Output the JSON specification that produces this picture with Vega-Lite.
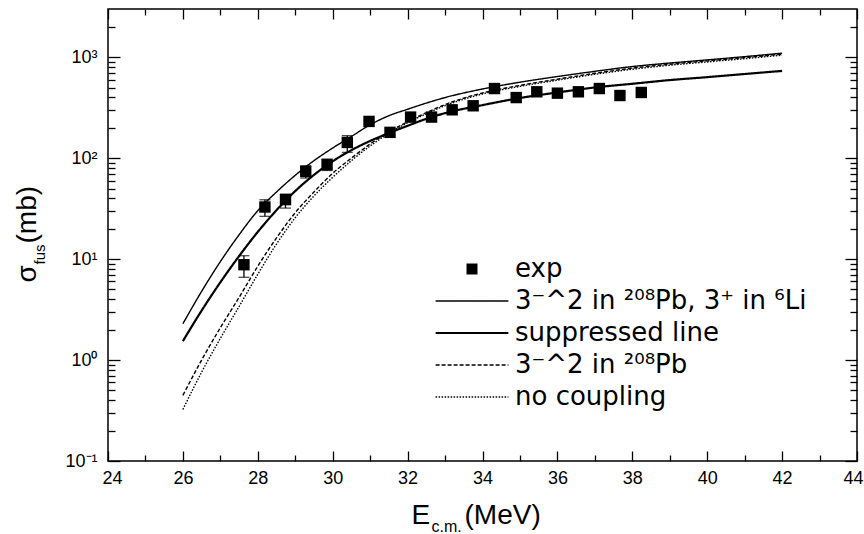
{
  "$schema": "https://vega.github.io/schema/vega-lite/v6.json",
  "width": 749,
  "height": 452,
  "autosize": {"type": "none"},
  "padding": {"left": 108, "top": 9, "right": 7, "bottom": 73},
  "background": "white",
  "config": {
    "view": {"stroke": "black", "strokeWidth": 1.5},
    "font": "Liberation Sans",
    "axis": {"domain": false, "grid": false, "tickColor": "black", "tickWidth": 1.3, "labelColor": "black", "titleColor": "black", "labelFont": "Liberation Sans", "titleFont": "Liberation Sans", "titleFontWeight": "normal", "labelFlush": false, "labelOverlap": false}
  },
  "datasets": {
    "curves": [
      {"E": 26, "sigma": 2.29, "model": "3⁻^2 in ²⁰⁸Pb, 3⁺ in ⁶Li"},
      {"E": 26.5, "sigma": 4.79, "model": "3⁻^2 in ²⁰⁸Pb, 3⁺ in ⁶Li"},
      {"E": 27, "sigma": 9.44, "model": "3⁻^2 in ²⁰⁸Pb, 3⁺ in ⁶Li"},
      {"E": 27.5, "sigma": 17.4, "model": "3⁻^2 in ²⁰⁸Pb, 3⁺ in ⁶Li"},
      {"E": 28, "sigma": 30.2, "model": "3⁻^2 in ²⁰⁸Pb, 3⁺ in ⁶Li"},
      {"E": 28.5, "sigma": 46.2, "model": "3⁻^2 in ²⁰⁸Pb, 3⁺ in ⁶Li"},
      {"E": 29, "sigma": 67.6, "model": "3⁻^2 in ²⁰⁸Pb, 3⁺ in ⁶Li"},
      {"E": 29.5, "sigma": 94.4, "model": "3⁻^2 in ²⁰⁸Pb, 3⁺ in ⁶Li"},
      {"E": 30, "sigma": 126, "model": "3⁻^2 in ²⁰⁸Pb, 3⁺ in ⁶Li"},
      {"E": 30.5, "sigma": 164, "model": "3⁻^2 in ²⁰⁸Pb, 3⁺ in ⁶Li"},
      {"E": 31, "sigma": 214, "model": "3⁻^2 in ²⁰⁸Pb, 3⁺ in ⁶Li"},
      {"E": 31.5, "sigma": 263, "model": "3⁻^2 in ²⁰⁸Pb, 3⁺ in ⁶Li"},
      {"E": 32, "sigma": 305, "model": "3⁻^2 in ²⁰⁸Pb, 3⁺ in ⁶Li"},
      {"E": 32.5, "sigma": 351, "model": "3⁻^2 in ²⁰⁸Pb, 3⁺ in ⁶Li"},
      {"E": 33, "sigma": 398, "model": "3⁻^2 in ²⁰⁸Pb, 3⁺ in ⁶Li"},
      {"E": 34, "sigma": 484, "model": "3⁻^2 in ²⁰⁸Pb, 3⁺ in ⁶Li"},
      {"E": 35, "sigma": 565, "model": "3⁻^2 in ²⁰⁸Pb, 3⁺ in ⁶Li"},
      {"E": 36, "sigma": 643, "model": "3⁻^2 in ²⁰⁸Pb, 3⁺ in ⁶Li"},
      {"E": 37, "sigma": 724, "model": "3⁻^2 in ²⁰⁸Pb, 3⁺ in ⁶Li"},
      {"E": 38, "sigma": 807, "model": "3⁻^2 in ²⁰⁸Pb, 3⁺ in ⁶Li"},
      {"E": 39, "sigma": 875, "model": "3⁻^2 in ²⁰⁸Pb, 3⁺ in ⁶Li"},
      {"E": 40, "sigma": 940, "model": "3⁻^2 in ²⁰⁸Pb, 3⁺ in ⁶Li"},
      {"E": 41, "sigma": 1012, "model": "3⁻^2 in ²⁰⁸Pb, 3⁺ in ⁶Li"},
      {"E": 42, "sigma": 1096, "model": "3⁻^2 in ²⁰⁸Pb, 3⁺ in ⁶Li"},
      {"E": 26, "sigma": 1.54, "model": "suppressed line"},
      {"E": 26.5, "sigma": 3.09, "model": "suppressed line"},
      {"E": 27, "sigma": 5.89, "model": "suppressed line"},
      {"E": 27.5, "sigma": 10.7, "model": "suppressed line"},
      {"E": 28, "sigma": 18.6, "model": "suppressed line"},
      {"E": 28.5, "sigma": 30.5, "model": "suppressed line"},
      {"E": 29, "sigma": 47.2, "model": "suppressed line"},
      {"E": 29.5, "sigma": 68.2, "model": "suppressed line"},
      {"E": 30, "sigma": 93.1, "model": "suppressed line"},
      {"E": 30.5, "sigma": 120, "model": "suppressed line"},
      {"E": 31, "sigma": 148, "model": "suppressed line"},
      {"E": 31.5, "sigma": 177, "model": "suppressed line"},
      {"E": 32, "sigma": 209, "model": "suppressed line"},
      {"E": 32.5, "sigma": 245, "model": "suppressed line"},
      {"E": 33, "sigma": 279, "model": "suppressed line"},
      {"E": 34, "sigma": 335, "model": "suppressed line"},
      {"E": 35, "sigma": 394, "model": "suppressed line"},
      {"E": 36, "sigma": 447, "model": "suppressed line"},
      {"E": 37, "sigma": 501, "model": "suppressed line"},
      {"E": 38, "sigma": 545, "model": "suppressed line"},
      {"E": 39, "sigma": 593, "model": "suppressed line"},
      {"E": 40, "sigma": 634, "model": "suppressed line"},
      {"E": 41, "sigma": 681, "model": "suppressed line"},
      {"E": 42, "sigma": 731, "model": "suppressed line"},
      {"E": 26, "sigma": 0.447, "model": "3⁻^2 in ²⁰⁸Pb"},
      {"E": 26.5, "sigma": 1.0, "model": "3⁻^2 in ²⁰⁸Pb"},
      {"E": 27, "sigma": 2.09, "model": "3⁻^2 in ²⁰⁸Pb"},
      {"E": 27.5, "sigma": 4.17, "model": "3⁻^2 in ²⁰⁸Pb"},
      {"E": 28, "sigma": 8.51, "model": "3⁻^2 in ²⁰⁸Pb"},
      {"E": 28.5, "sigma": 16.2, "model": "3⁻^2 in ²⁰⁸Pb"},
      {"E": 29, "sigma": 28.8, "model": "3⁻^2 in ²⁰⁸Pb"},
      {"E": 29.5, "sigma": 46.2, "model": "3⁻^2 in ²⁰⁸Pb"},
      {"E": 30, "sigma": 70.8, "model": "3⁻^2 in ²⁰⁸Pb"},
      {"E": 30.5, "sigma": 100, "model": "3⁻^2 in ²⁰⁸Pb"},
      {"E": 31, "sigma": 138, "model": "3⁻^2 in ²⁰⁸Pb"},
      {"E": 31.5, "sigma": 182, "model": "3⁻^2 in ²⁰⁸Pb"},
      {"E": 32, "sigma": 229, "model": "3⁻^2 in ²⁰⁸Pb"},
      {"E": 32.5, "sigma": 282, "model": "3⁻^2 in ²⁰⁸Pb"},
      {"E": 33, "sigma": 339, "model": "3⁻^2 in ²⁰⁸Pb"},
      {"E": 34, "sigma": 442, "model": "3⁻^2 in ²⁰⁸Pb"},
      {"E": 35, "sigma": 525, "model": "3⁻^2 in ²⁰⁸Pb"},
      {"E": 36, "sigma": 605, "model": "3⁻^2 in ²⁰⁸Pb"},
      {"E": 37, "sigma": 692, "model": "3⁻^2 in ²⁰⁸Pb"},
      {"E": 38, "sigma": 778, "model": "3⁻^2 in ²⁰⁸Pb"},
      {"E": 39, "sigma": 851, "model": "3⁻^2 in ²⁰⁸Pb"},
      {"E": 40, "sigma": 918, "model": "3⁻^2 in ²⁰⁸Pb"},
      {"E": 41, "sigma": 989, "model": "3⁻^2 in ²⁰⁸Pb"},
      {"E": 42, "sigma": 1072, "model": "3⁻^2 in ²⁰⁸Pb"},
      {"E": 26, "sigma": 0.324, "model": "no coupling"},
      {"E": 26.5, "sigma": 0.759, "model": "no coupling"},
      {"E": 27, "sigma": 1.64, "model": "no coupling"},
      {"E": 27.5, "sigma": 3.39, "model": "no coupling"},
      {"E": 28, "sigma": 7.08, "model": "no coupling"},
      {"E": 28.5, "sigma": 14.1, "model": "no coupling"},
      {"E": 29, "sigma": 25.7, "model": "no coupling"},
      {"E": 29.5, "sigma": 42.2, "model": "no coupling"},
      {"E": 30, "sigma": 64.6, "model": "no coupling"},
      {"E": 30.5, "sigma": 94.4, "model": "no coupling"},
      {"E": 31, "sigma": 132, "model": "no coupling"},
      {"E": 31.5, "sigma": 176, "model": "no coupling"},
      {"E": 32, "sigma": 224, "model": "no coupling"},
      {"E": 32.5, "sigma": 275, "model": "no coupling"},
      {"E": 33, "sigma": 331, "model": "no coupling"},
      {"E": 34, "sigma": 432, "model": "no coupling"},
      {"E": 35, "sigma": 513, "model": "no coupling"},
      {"E": 36, "sigma": 592, "model": "no coupling"},
      {"E": 37, "sigma": 676, "model": "no coupling"},
      {"E": 38, "sigma": 759, "model": "no coupling"},
      {"E": 39, "sigma": 832, "model": "no coupling"},
      {"E": 40, "sigma": 897, "model": "no coupling"},
      {"E": 41, "sigma": 966, "model": "no coupling"},
      {"E": 42, "sigma": 1047, "model": "no coupling"}
    ],
    "exp": [
      {"E": 27.63, "sigma": 8.8},
      {"E": 28.19, "sigma": 32.8},
      {"E": 28.74, "sigma": 38.8},
      {"E": 29.28, "sigma": 73.8},
      {"E": 29.85, "sigma": 86},
      {"E": 30.39, "sigma": 143},
      {"E": 30.97, "sigma": 231},
      {"E": 31.53, "sigma": 180},
      {"E": 32.08, "sigma": 255},
      {"E": 32.64, "sigma": 255},
      {"E": 33.19, "sigma": 301},
      {"E": 33.75, "sigma": 330},
      {"E": 34.32, "sigma": 489},
      {"E": 34.9, "sigma": 398},
      {"E": 35.45, "sigma": 454},
      {"E": 36.0, "sigma": 440},
      {"E": 36.56, "sigma": 454},
      {"E": 37.12, "sigma": 489},
      {"E": 37.67, "sigma": 417},
      {"E": 38.24, "sigma": 447}
    ],
    "err": [
      {"E": 27.63, "lo": 6.6, "hi": 10.8},
      {"E": 28.19, "lo": 26.5, "hi": 38.7},
      {"E": 28.74, "lo": 32, "hi": 44},
      {"E": 29.28, "lo": 63.5, "hi": 84},
      {"E": 29.85, "lo": 75.5, "hi": 98},
      {"E": 30.39, "lo": 114, "hi": 167}
    ]
  },
  "resolve": {"scale": {"x": "shared", "y": "shared"}, "axis": {"x": "independent", "y": "independent"}},
  "layer": [
    {
      "data": {"name": "curves"},
      "mark": {"type": "line", "interpolate": "monotone", "color": "black"},
      "encoding": {
        "x": {"field": "E", "type": "quantitative", "scale": {"domain": [24, 44], "nice": false, "zero": false},
          "axis": {"orient": "bottom", "values": [24, 26, 28, 30, 32, 34, 36, 38, 40, 42, 44], "tickSize": -10, "labelPadding": 18, "labelFontSize": 18, "labelFlush": true, "labelFlushOffset": 6,
            "title": "E", "titleFontSize": 28, "titleX": 303, "titleY": 62, "titleAlign": "left", "titleBaseline": "alphabetic", "titleAngle": 0}},
        "y": {"field": "sigma", "type": "quantitative", "scale": {"type": "log", "domain": [0.1, 3000], "nice": false},
          "axis": {"orient": "left", "values": [0.1, 1, 10, 100, 1000], "tickSize": -12, "labelPadding": 23, "labelFontSize": 18,
            "labelExpr": "datum.value >= 999 ? '10³' : datum.value >= 99 ? '10²' : datum.value >= 9 ? '10¹' : datum.value >= 0.9 ? '10⁰' : '10⁻¹'",
            "title": "σ", "titleFontSize": 28, "titleAngle": 270, "titleX": -73, "titleY": 273, "titleAlign": "left", "titleBaseline": "alphabetic"}},
        "strokeDash": {"field": "model", "type": "nominal",
          "scale": {"domain": ["exp", "3⁻^2 in ²⁰⁸Pb, 3⁺ in ⁶Li", "suppressed line", "3⁻^2 in ²⁰⁸Pb", "no coupling"], "range": [[1, 0], [1, 0], [1, 0], [4, 2], [1.5, 1.5]]},
          "legend": {"title": null, "orient": "none", "legendX": 351, "legendY": 247, "symbolSize": 784, "symbolType": "stroke", "symbolStrokeColor": "black", "symbolStrokeWidth": 1.4,
            "labelFontSize": 26, "labelFont": "DejaVu Sans", "labelColor": "black", "labelOffset": 30, "rowPadding": 6, "labelLimit": 500,
            "encode": {"symbols": {"update": {
              "shape": {"signal": "datum.value === 'exp' ? 'square' : 'M-2.6,0H2.6'"},
              "size": {"signal": "datum.value === 'exp' ? 121 : 784"},
              "fill": {"signal": "datum.value === 'exp' ? 'black' : 'transparent'"},
              "stroke": {"value": "black"},
              "strokeWidth": {"signal": "datum.value === 'exp' ? 0 : datum.value === 'suppressed line' ? 2.2 : 1.4"}}}}}},
        "strokeWidth": {"condition": {"test": "datum.model === 'suppressed line'", "value": 2.2}, "value": 1.4}
      }
    },
    {
      "data": {"name": "exp"},
      "mark": {"type": "point", "shape": "square", "filled": true, "size": 130, "color": "black", "opacity": 1},
      "encoding": {
        "x": {"field": "E", "type": "quantitative", "scale": {"domain": [24, 44], "nice": false, "zero": false},
          "axis": {"orient": "bottom", "values": [25, 27, 29, 31, 33, 35, 37, 39, 41, 43], "tickSize": -6, "labels": false,
            "title": "c.m.", "titleFontSize": 16, "titleX": 323, "titleY": 70, "titleAlign": "left", "titleBaseline": "alphabetic", "titleAngle": 0}},
        "y": {"field": "sigma", "type": "quantitative", "scale": {"type": "log", "domain": [0.1, 3000], "nice": false},
          "axis": {"orient": "left", "values": [0.2, 0.3, 0.4, 0.5, 0.6, 0.7, 0.8, 0.9, 2, 3, 4, 5, 6, 7, 8, 9, 20, 30, 40, 50, 60, 70, 80, 90, 200, 300, 400, 500, 600, 700, 800, 900, 2000], "tickSize": -7, "labels": false,
            "title": "fus", "titleFontSize": 15, "titleAngle": 270, "titleX": -64, "titleY": 255, "titleAlign": "left", "titleBaseline": "alphabetic"}}
      }
    },
    {
      "data": {"name": "err"},
      "mark": {"type": "rule", "color": "black", "strokeWidth": 1.3},
      "encoding": {
        "x": {"field": "E", "type": "quantitative", "scale": {"domain": [24, 44], "nice": false, "zero": false},
          "axis": {"orient": "top", "values": [24, 26, 28, 30, 32, 34, 36, 38, 40, 42, 44], "tickSize": -10, "labels": false, "title": null}},
        "y": {"field": "lo", "type": "quantitative", "scale": {"type": "log", "domain": [0.1, 3000], "nice": false},
          "axis": {"orient": "right", "values": [0.1, 1, 10, 100, 1000], "tickSize": -12, "labels": false, "title": null}},
        "y2": {"field": "hi"}
      }
    },
    {
      "data": {"name": "err"},
      "mark": {"type": "tick", "orient": "horizontal", "color": "black", "size": 11, "thickness": 1.3},
      "encoding": {
        "x": {"field": "E", "type": "quantitative", "scale": {"domain": [24, 44], "nice": false, "zero": false},
          "axis": {"orient": "top", "values": [25, 27, 29, 31, 33, 35, 37, 39, 41, 43], "tickSize": -6, "labels": false, "title": null}},
        "y": {"field": "lo", "type": "quantitative", "scale": {"type": "log", "domain": [0.1, 3000], "nice": false},
          "axis": {"orient": "right", "values": [0.2, 0.3, 0.4, 0.5, 0.6, 0.7, 0.8, 0.9, 2, 3, 4, 5, 6, 7, 8, 9, 20, 30, 40, 50, 60, 70, 80, 90, 200, 300, 400, 500, 600, 700, 800, 900, 2000], "tickSize": -7, "labels": false, "title": null}}
      }
    },
    {
      "data": {"name": "err"},
      "mark": {"type": "tick", "orient": "horizontal", "color": "black", "size": 11, "thickness": 1.3},
      "encoding": {
        "x": {"field": "E", "type": "quantitative", "scale": {"domain": [24, 44], "nice": false, "zero": false},
          "axis": {"orient": "bottom", "ticks": false, "labels": false, "title": "(MeV)", "titleFontSize": 28, "titleX": 356, "titleY": 62, "titleAlign": "left", "titleBaseline": "alphabetic", "titleAngle": 0}},
        "y": {"field": "hi", "type": "quantitative", "scale": {"type": "log", "domain": [0.1, 3000], "nice": false},
          "axis": {"orient": "left", "ticks": false, "labels": false, "title": "(mb)", "titleFontSize": 28, "titleAngle": 270, "titleX": -73, "titleY": 234, "titleAlign": "left", "titleBaseline": "alphabetic"}}
      }
    }
  ]
}
